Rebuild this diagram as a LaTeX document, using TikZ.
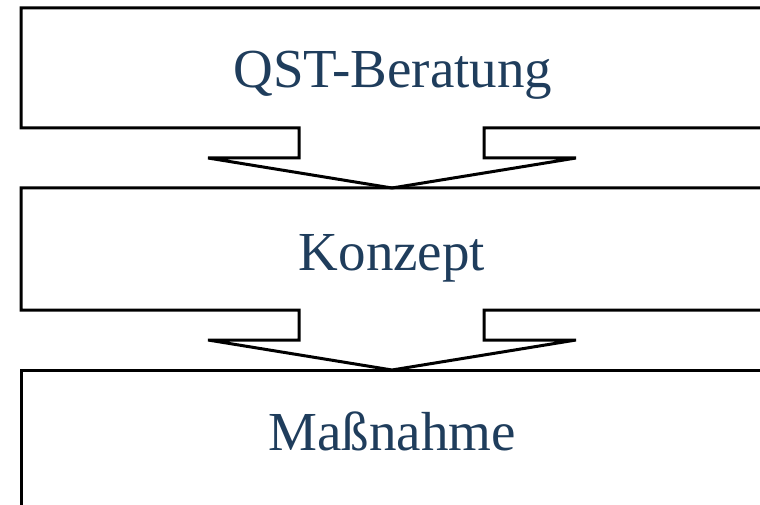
\documentclass[tikz,border=0pt]{standalone}
\usepackage{fontspec}
\setmainfont{Liberation Serif}
\definecolor{txtblue}{HTML}{1F3D5C}
\begin{document}
\begin{tikzpicture}[x=1pt,y=-1pt,
  outline/.style={draw=black,line width=3pt},
  label/.style={text=txtblue,font=\fontsize{55}{60}\selectfont,inner sep=0pt,anchor=base}]
\useasboundingbox (0,0) rectangle (760,505);
\clip (0,0) rectangle (760,505);
\draw[outline] (775,8) -- (21,8) -- (21,128) -- (299,128) -- (299,158) -- (208,158) -- (392,188) -- (576,158) -- (484,158) -- (484,128) -- (775,128);
\draw[outline] (775,188) -- (21,188) -- (21,310) -- (299,310) -- (299,340) -- (208,340) -- (392,370) -- (576,340) -- (484,340) -- (484,310) -- (775,310);
\draw[outline] (775,370) -- (21,370) -- (21,520);
\node[label] (qst) at (393,88) {QST-Beratung};
\node[label] (konzept) at (392,270) {Konzept};
\node[label] (massnahme) at (392,450) {Maßnahme};
\end{tikzpicture}
\end{document}
